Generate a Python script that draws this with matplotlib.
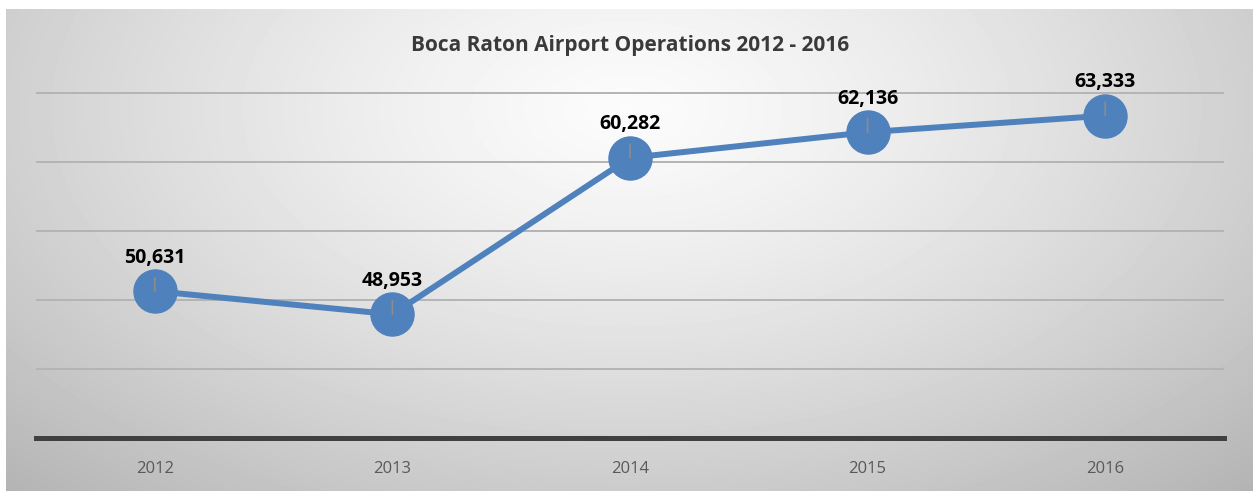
import numpy as np
import matplotlib.pyplot as plt

# datos
anios = ['2012', '2013', '2014', '2015', '2016']
operaciones = [50631, 48953, 60282, 62136, 63333]
titulo = 'Boca Raton Airport Operations 2012 - 2016'

W, H = 1253, 491
fig = plt.figure(figsize=(W / 100, H / 100), dpi=100)
fig.patch.set_facecolor('white')

# fondo con degradado radial (estilo Excel)
bg = fig.add_axes([6 / W, 0, 1 - 6 / W, 1 - 9 / H])
yy, xx = np.mgrid[0:482, 0:1247]
r = np.sqrt(((xx - 620) / 760.0) ** 2 + ((yy - 100) / 430.0) ** 2)
gris = 0.985 - 0.22 * np.clip(r, 0, 1.2) ** 1.3
bg.imshow(gris, cmap='gray', vmin=0, vmax=1, aspect='auto', interpolation='bilinear')
bg.set_axis_off()

ax = fig.add_axes([36 / W, (H - 438) / H, (1224 - 36) / W, (438 - 65) / H])
ax.patch.set_alpha(0)
x = np.arange(len(anios))

ax.set_xlim(-0.5, len(anios) - 0.5)
ax.set_ylim(40000, 67000)
ax.set_yticks([45000, 50000, 55000, 60000, 65000])
ax.yaxis.grid(True, color='#b4b4b4', lw=1.4)
ax.set_axisbelow(True)
ax.tick_params(axis='y', left=False, labelleft=False)
ax.tick_params(axis='x', bottom=False, pad=13, labelsize=12, labelcolor='#595959')
ax.set_xticks(x)
ax.set_xticklabels(anios, family='Open Sans')
for s in ['top', 'right', 'left']:
    ax.spines[s].set_visible(False)
ax.spines['bottom'].set_color('#404040')
ax.spines['bottom'].set_linewidth(3.6)

ax.plot(x, operaciones, color='#4f81bd', lw=4.3, marker='o', markersize=31,
        markerfacecolor='#4f81bd', markeredgecolor='#4f81bd', zorder=3, clip_on=False)

for xi, v in zip(x, operaciones):
    ax.annotate(f'{v:,}', (xi, v), xytext=(0, 24), textcoords='offset points',
                ha='center', va='center', fontsize=14, fontweight='bold',
                family='Open Sans', color='black', zorder=5,
                arrowprops=dict(arrowstyle='-', color='#8c8c8c', lw=1.2,
                                shrinkA=5, shrinkB=0))

fig.text(630 / W, 1 - 45 / H, titulo, ha='center', va='center', fontsize=15,
         fontweight='bold', family='Open Sans', color='#3a3a3a')

fig.savefig('out.png', dpi=100)
